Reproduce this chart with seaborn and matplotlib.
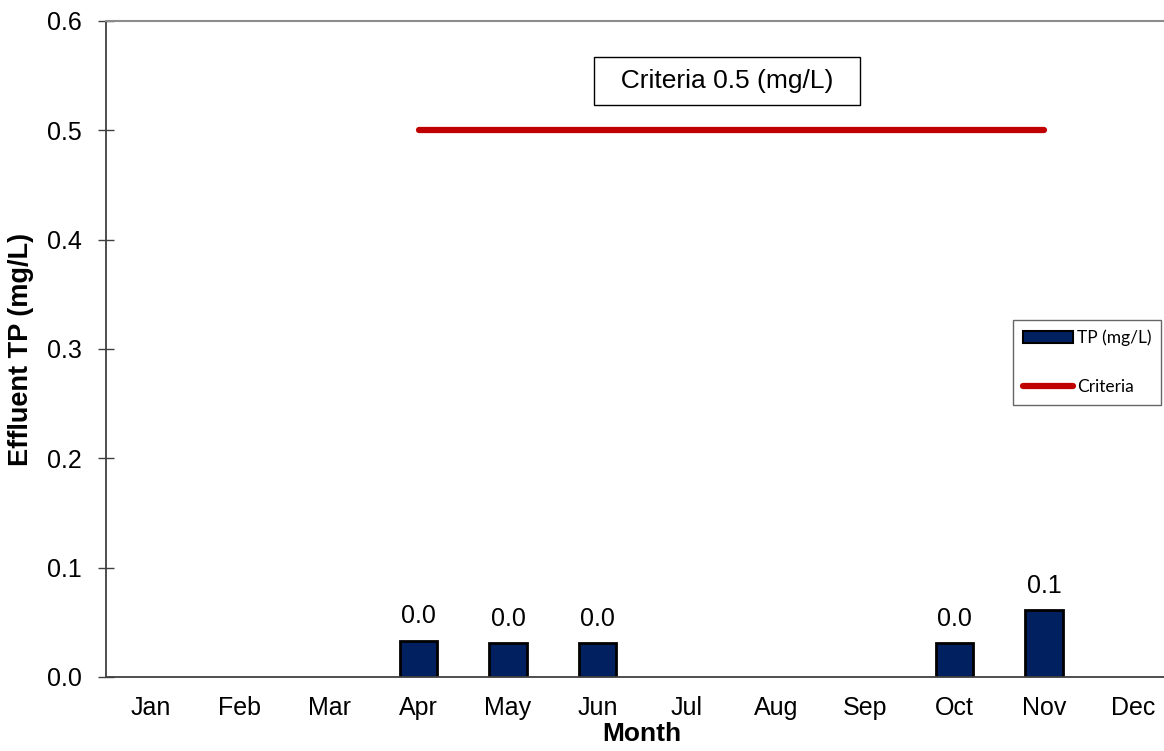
import numpy as np
import pandas as pd
import matplotlib
matplotlib.use("Agg")
import matplotlib.pyplot as plt
import seaborn as sns
from matplotlib.patches import Patch
from matplotlib.lines import Line2D
from matplotlib.ticker import FixedLocator

months = ["Jan", "Feb", "Mar", "Apr", "May", "Jun", "Jul", "Aug", "Sep", "Oct", "Nov", "Dec"]
tp_values = [np.nan, np.nan, np.nan, 0.033, 0.031, 0.031, np.nan, np.nan, np.nan, 0.031, 0.061, np.nan]
criteria = [np.nan, np.nan, np.nan, 0.5, 0.5, 0.5, 0.5, 0.5, 0.5, 0.5, 0.5, np.nan]
yticks = [0.0, 0.1, 0.2, 0.3, 0.4, 0.5, 0.6]
criteria_label = "Criteria 0.5 (mg/L)"

sns.set_style("white")
plt.rcParams['font.family'] = ['Liberation Sans', 'DejaVu Sans']
plt.rcParams['text.color'] = 'black'
plt.rcParams['axes.labelcolor'] = 'black'
plt.rcParams['xtick.color'] = 'black'
plt.rcParams['ytick.color'] = 'black'

fig = plt.figure(figsize=(11.64, 7.51), dpi=100)
ax = fig.add_axes([106/1164, 1-677/751, (1178-106)/1164, (677-21)/751])

df = pd.DataFrame({"Month": months, "TP": tp_values})
sns.barplot(data=df, x="Month", y="TP", order=months, color="#002060",
            edgecolor="black", linewidth=2.0, width=0.42, ax=ax, saturation=1)

# criteria line
idx = [i for i, v in enumerate(criteria) if not np.isnan(v)]
ax.plot(idx, [criteria[i] for i in idx], color="#C00000", lw=4.5,
        solid_capstyle="round", zorder=3)

# value labels
for i, v in enumerate(tp_values):
    if not np.isnan(v):
        ax.annotate(f"{v:.1f}", (i, v), xytext=(0, 9), textcoords="offset points",
                    ha="center", va="bottom", fontsize=18, color="black")

ax.text(6.45, 0.545, "  " + criteria_label + "  ", ha="center", va="center", fontsize=19,
        color="black",
        bbox=dict(boxstyle="square,pad=0.45", fc="white", ec="black", lw=1.0))

ax.set_xlim(-0.5, 11.5)
ax.set_ylim(0, 0.6)
ax.set_yticks(yticks)
ax.set_yticklabels([f"{t:.1f}" for t in yticks], fontsize=18)
ax.set_xticks(range(len(months)))
ax.set_xticklabels(months, fontsize=18)
ax.xaxis.set_minor_locator(FixedLocator(np.arange(0.5, 11.5, 1.0)))
ax.tick_params(axis="x", which="major", length=0, pad=14, labelcolor="black")
ax.tick_params(axis="x", which="minor", length=6, width=1, direction="out", color="#404040")
ax.tick_params(axis="y", which="major", length=11, width=1, direction="inout", color="#404040",
               pad=12, left=True, labelcolor="black")

ax.set_xlabel("Month", fontsize=19, fontweight="bold", labelpad=1, color="black")
ax.set_ylabel("Effluent TP (mg/L)", fontsize=19.5, fontweight="bold", labelpad=9, color="black")

for s in ["left", "bottom"]:
    ax.spines[s].set_color("#404040")
    ax.spines[s].set_linewidth(1.3)
ax.spines["top"].set_color("#8c8c8c")
ax.spines["top"].set_linewidth(1.5)
ax.spines["right"].set_visible(False)

handles = [Patch(facecolor="#002060", edgecolor="black", linewidth=1.5),
           Line2D([0], [0], color="#C00000", lw=4.5, solid_capstyle="round")]
leg = fig.legend(handles, ["TP (mg/L)", "Criteria"], loc="upper left",
                 bbox_to_anchor=(1013/1164, 1-320/751), frameon=True, fancybox=False,
                 prop={"family": "Lato", "size": 12.5}, handlelength=2.9, handleheight=0.75,
                 handletextpad=0.25, labelspacing=1.9, borderpad=0.55, borderaxespad=0)
leg.get_frame().set_edgecolor("#404040")
leg.get_frame().set_linewidth(1.0)
for t in leg.get_texts():
    t.set_color("black")

fig.savefig("out.png", dpi=100)
